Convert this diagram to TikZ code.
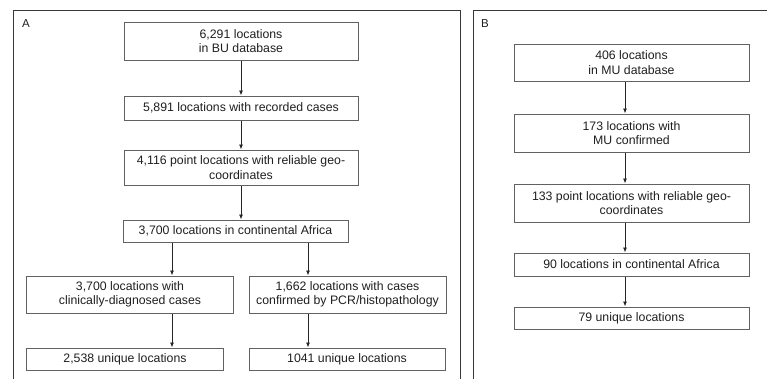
\documentclass[tikz,border=0pt]{standalone}
\usepackage{fontspec}
\setmainfont{Liberation Sans}
\usetikzlibrary{arrows.meta}
\colorlet{framegray}{black!78}
\colorlet{boxgray}{black!62}

\begin{document}
\begin{tikzpicture}[x=1bp,y=-1bp,
  box/.style={draw=boxgray, line width=1bp, align=center, inner sep=0pt,
    font=\fontsize{12.3bp}{14.5bp}\selectfont, text=black!88},
  flow/.style={draw=black!85, line width=0.8bp, -{Latex[length=5bp,width=4bp]}},
  panel/.style={draw=framegray, line width=0.8bp},
  tag/.style={font=\fontsize{11.5bp}{13bp}\selectfont, text=black!88}]
  \useasboundingbox (0,0) rectangle (767,379);

  % panel A
  \draw[panel] (13,379)--(13,10)--(460,10)--(460,379);
  \node[tag] (tagA) at (26,23.5) {A};
  \coordinate (splitL) at (172,0);
  \coordinate (splitR) at (308,0);

  \node[box, minimum width=234bp, minimum height=38bp] (a1) at (241,41) {6,291 locations\\in BU database};
  \node[box, minimum width=234bp, minimum height=24bp] (a2) at (241,108) {5,891 locations with recorded cases};
  \node[box, minimum width=234bp, minimum height=35bp] (a3) at (241,167.5) {4,116 point locations with reliable geo-\\coordinates};
  \node[box, minimum width=225bp, minimum height=22bp] (a4) at (235.5,231) {3,700 locations in continental Africa};
  \node[box, minimum width=206bp, minimum height=37bp] (a5) at (130,294.5) {3,700 locations with\\clinically-diagnosed cases};
  \node[box, minimum width=197bp, minimum height=37bp] (a6) at (347.5,294.5) {1,662 locations with cases\\confirmed by PCR/histopathology};
  \node[box, minimum width=196bp, minimum height=22bp] (a7) at (125,359) {2,538 unique locations};
  \node[box, minimum width=196bp, minimum height=22bp] (a8) at (347,359) {1041 unique locations};

  \draw[flow] (a1.south) -- (a2.north);
  \draw[flow] (a2.south) -- (a3.north);
  \draw[flow] (a3.south) -- (a3.south |- a4.north);
  \draw[flow] (a4.south -| splitL) -- (a5.north -| splitL);
  \draw[flow] (a4.south -| splitR) -- (a6.north -| splitR);
  \draw[flow] (a5.south -| splitL) -- (a7.north -| splitL);
  \draw[flow] (a6.south -| splitR) -- (a8.north -| splitR);

  % panel B
  \draw[panel] (473,379)--(473,10)--(767,10);
  \node[tag] (tagB) at (485,23.5) {B};
  \coordinate (trunkB) at (625,0);

  \node[box, minimum width=235bp, minimum height=37bp] (b1) at (631.5,62.5) {406 locations\\in MU database};
  \node[box, minimum width=235bp, minimum height=38bp] (b2) at (631.5,133) {173 locations with\\MU confirmed};
  \node[box, minimum width=235bp, minimum height=38bp] (b3) at (631.5,203) {133 point locations with reliable geo-\\coordinates};
  \node[box, minimum width=235bp, minimum height=23bp] (b4) at (631.5,264.5) {90 locations in continental Africa};
  \node[box, minimum width=235bp, minimum height=22bp] (b5) at (631.5,318) {79 unique locations};

  \draw[flow] (b1.south -| trunkB) -- (b2.north -| trunkB);
  \draw[flow] (b2.south -| trunkB) -- (b3.north -| trunkB);
  \draw[flow] (b3.south -| trunkB) -- (b4.north -| trunkB);
  \draw[flow] (b4.south -| trunkB) -- (b5.north -| trunkB);
\end{tikzpicture}
\end{document}
